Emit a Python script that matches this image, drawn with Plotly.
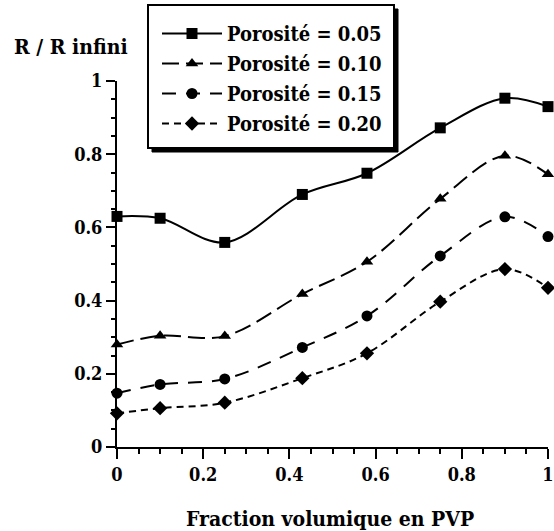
import plotly.graph_objects as go

# PVP volume fraction (x) and normalised resistance R / R infini for each porosity
pvp_fraction = [0.0, 0.10, 0.25, 0.43, 0.58, 0.75, 0.90, 1.0]
r_por_005 = [0.630, 0.625, 0.559, 0.690, 0.748, 0.872, 0.953, 0.930]
r_por_010 = [0.280, 0.304, 0.303, 0.418, 0.506, 0.678, 0.796, 0.745]
r_por_015 = [0.147, 0.171, 0.186, 0.272, 0.358, 0.522, 0.629, 0.575]
r_por_020 = [0.092, 0.106, 0.121, 0.188, 0.256, 0.397, 0.486, 0.435]
series_names = ["Porosité = 0.05", "Porosité = 0.10", "Porosité = 0.15", "Porosité = 0.20"]

FONT = "DejaVu Serif Condensed, DejaVu Serif"
styles = [
    dict(symbol="square", dash="solid", size=11),
    dict(symbol="triangle-up", dash="17px,7px", size=11),
    dict(symbol="circle", dash="14px,10px", size=11),
    dict(symbol="diamond", dash="7px,5px", size=11),
]

fig = go.Figure()
for i, (name, ys, st) in enumerate(zip(series_names, [r_por_005, r_por_010, r_por_015, r_por_020], styles)):
    fig.add_trace(go.Scatter(
        x=pvp_fraction, y=ys, name=name, mode="lines+markers",
        legendgroup=f"g{i}",
        line=dict(color="black", width=2, dash=st["dash"], shape="spline", smoothing=1.0),
        marker=dict(symbol=st["symbol"], size=st["size"], color="black"),
        cliponaxis=False,
    ))

W, H = 554, 531
L, R, T, B = 117, 6, 81, 84
pw, ph = W - L - R, H - T - B


def px_x(p):
    return (p - L) / pw


def px_y(p):
    return (H - B - p) / ph


axis_common = dict(
    showline=True, linecolor="black", linewidth=2, mirror=False,
    showgrid=False, zeroline=False, ticks="outside", tickcolor="black",
    tickwidth=2, range=[0, 1], automargin=False, ticklabeloverflow="allow",
    tickfont=dict(family=FONT, size=18, color="black", weight="bold"),
)

fig.update_xaxes(
    **axis_common, tickvals=[0, 0.2, 0.4, 0.6, 0.8, 1.0], ticklen=10,
    minor=dict(dtick=0.05, tick0=0, ticks="outside", ticklen=5, tickwidth=2, tickcolor="black"),
)
fig.update_yaxes(
    **axis_common, tickvals=[0, 0.2, 0.4, 0.6, 0.8, 1.0], ticklen=9,
    minor=dict(dtick=0.05, tick0=0, ticks="outside", ticklen=4, tickwidth=2, tickcolor="black"),
)

# legend frame with a drop shadow
box = dict(x0=148, x1=394, y0=148, y1=5)
shadow = 4
fig.add_shape(type="rect", xref="paper", yref="paper",
              x0=px_x(box["x0"] + shadow), x1=px_x(box["x1"] + shadow),
              y0=px_y(box["y0"] + shadow), y1=px_y(box["y1"] + shadow),
              fillcolor="black", line=dict(color="black", width=1), layer="above")
fig.add_shape(type="rect", xref="paper", yref="paper",
              x0=px_x(box["x0"]), x1=px_x(box["x1"]),
              y0=px_y(box["y0"]), y1=px_y(box["y1"]),
              fillcolor="white", line=dict(color="black", width=2), layer="above")

fig.add_annotation(text="R / R infini", xref="paper", yref="paper",
                   x=px_x(71), y=px_y(47), xanchor="center", yanchor="middle",
                   showarrow=False, font=dict(family=FONT, size=21, color="black", weight="bold"))
fig.add_annotation(text="Fraction volumique en PVP", xref="paper", yref="paper",
                   x=px_x(330), y=px_y(518), xanchor="center", yanchor="middle",
                   showarrow=False, font=dict(family=FONT, size=21, color="black", weight="bold"))

fig.update_layout(
    width=W, height=H,
    margin=dict(l=L, r=R, t=T, b=B, pad=0, autoexpand=False),
    paper_bgcolor="white", plot_bgcolor="white",
    showlegend=True,
    legend=dict(
        x=px_x(157), y=px_y(14), xanchor="left", yanchor="top",
        bgcolor="rgba(0,0,0,0)", borderwidth=0,
        font=dict(family=FONT, size=20, color="black", weight="bold"),
        itemwidth=60, tracegroupgap=1,
    ),
)

fig.write_html("out.html")
